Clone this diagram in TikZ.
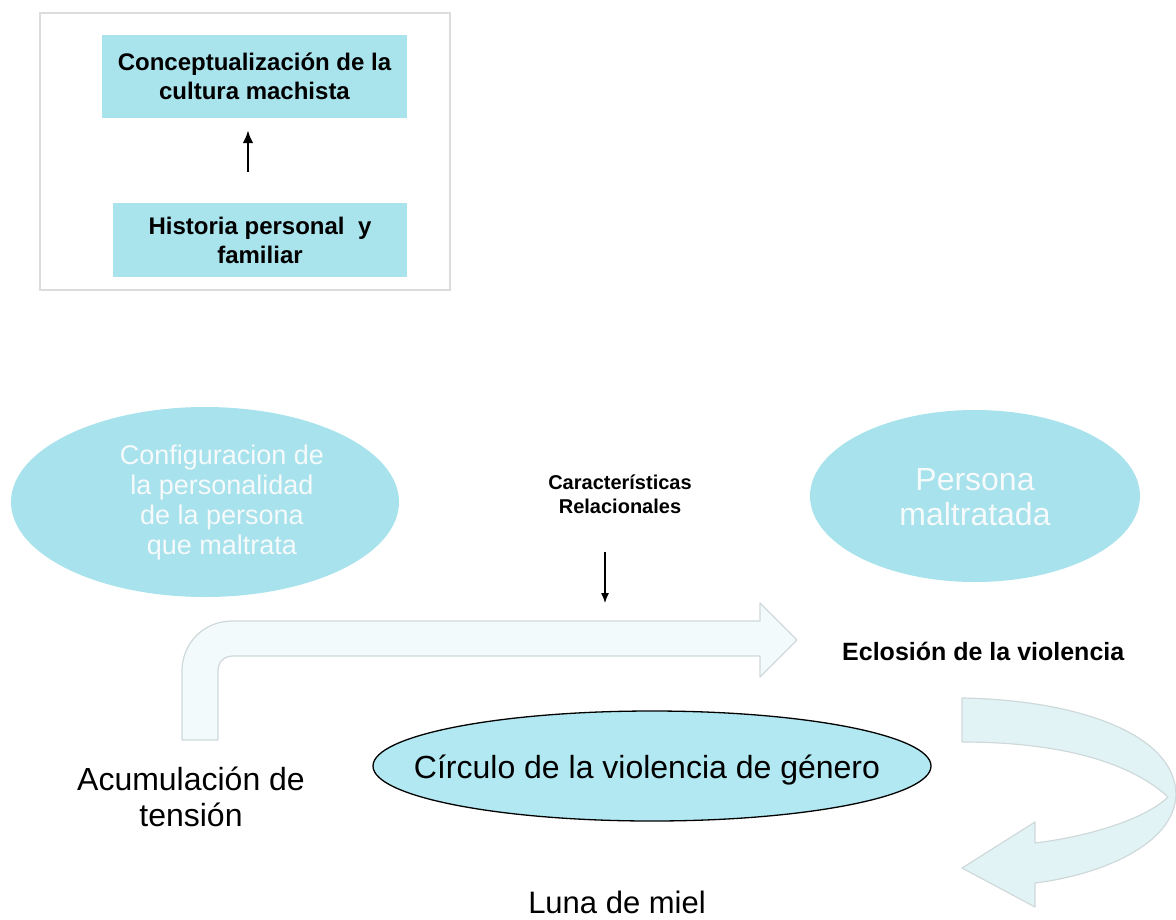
\documentclass[tikz,border=0pt]{standalone}
\usepackage{fontspec}
\setmainfont{Liberation Sans}
\usetikzlibrary{shapes.geometric,arrows.meta}
\definecolor{boxc}{HTML}{A9E3EC}
\definecolor{ellc}{HTML}{A8E2EC}
\definecolor{midc}{HTML}{B2E8F1}
\definecolor{ghostfill}{HTML}{F3FAFB}
\definecolor{ghostline}{HTML}{CFD9DA}
\definecolor{curvefill}{HTML}{E2F3F6}
\definecolor{framec}{HTML}{DCDCDC}
\definecolor{softwhite}{HTML}{F6FAFB}
\tikzset{
  cbox/.style={rectangle, fill=boxc, inner sep=0pt, align=center, font=\fontsize{24}{29}\selectfont\bfseries},
  bell/.style={ellipse, fill=ellc, inner sep=0pt},
  lbl/.style={inner sep=0pt, align=center},
  arr/.style={-{Latex[length=13,width=11]}, line width=2.8pt},
  thinarr/.style={-{Latex[length=10,width=8]}, line width=1.2pt},
  ghost/.style={fill=ghostfill, draw=ghostline, line width=1.2pt, line join=round},
  curv/.style={fill=curvefill, draw=ghostline, line width=1.2pt, line join=round}
}
\begin{document}
\begin{tikzpicture}[x=1pt,y=-1pt]
\useasboundingbox (0,0) rectangle (1176,919);
% frame
\draw[framec, line width=1.2pt] (40,13) rectangle (450,290);
% top boxes
\node[cbox, minimum width=305, minimum height=83] (box1) at (254.5,76.5) {Conceptualización de la\\cultura machista};
\node[cbox, minimum width=294, minimum height=74] (box2) at (260,240) {Historia personal \ y\\familiar};
\coordinate (tickx) at (248,0);
\draw[arr, shorten <=31pt, shorten >=12pt] (box2.north -| tickx) -- (box1.south -| tickx);
% ellipses
\node[bell, minimum width=388, minimum height=190] (conf) at (205,502) {};
\node[lbl, text=softwhite, font=\fontsize{27}{30}\selectfont] (conft) at (222,503) {Configuracion de\\la personalidad\\de la persona\\que maltrata};
\node[bell, minimum width=330, minimum height=172] (pers) at (975,496) {};
\node[lbl, text=softwhite, font=\fontsize{32}{35}\selectfont] (perst) at (975,497) {Persona\\maltratada};
% bent arrow
\draw[ghost] (182,740) -- (182,671) .. controls (182,643) and (204,621) .. (232,621)
  -- (760,621) -- (760,603) -- (797,640) -- (760,677) -- (760,656)
  -- (233,656) .. controls (224,656) and (218,662) .. (218,671) -- (218,740) -- cycle;
% curved U-turn arrow
\draw[curv] (962,698) .. controls (1080,700) and (1176,735) .. (1176,795)
  .. controls (1174,845) and (1100,875) .. (1035,883)
  -- (1035,907) -- (962,868) -- (1035,822) -- (1035,843)
  .. controls (1100,835) and (1150,815) .. (1168,797)
  .. controls (1130,762) and (1060,742) .. (962,742) -- cycle;
% labels
\node[lbl, font=\fontsize{20}{24}\selectfont\bfseries] (carac) at (620,494) {Características\\Relacionales};
\coordinate (rtip) at (605,603);
\draw[thinarr] (605,552) -- (rtip);
\node[lbl, anchor=base west, font=\fontsize{25}{30}\selectfont\bfseries] (eclo) at (842,660) {Eclosión de la violencia};
\node[ellipse, fill=midc, draw=black, line width=1.3pt, inner sep=0pt, minimum width=558, minimum height=110] (circ) at (652,766) {};
\node[lbl, font=\fontsize{32}{36}\selectfont] (circt) at (647,770) {Círculo de la violencia de género};
\node[lbl, font=\fontsize{32}{36}\selectfont] (acum) at (191,797) {Acumulación de\\tensión};
\node[lbl, anchor=base, font=\fontsize{31}{36}\selectfont] (luna) at (617,913) {Luna de miel};
\end{tikzpicture}
\end{document}
